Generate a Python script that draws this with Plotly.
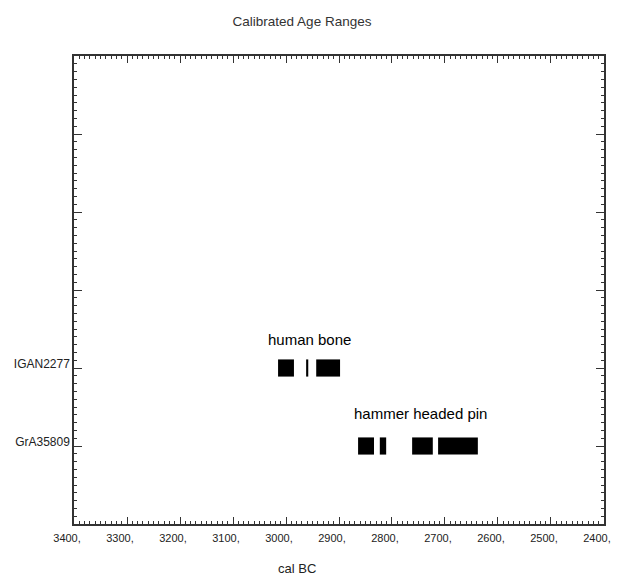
import plotly.graph_objects as go

# Data
samples = ["GrA35809", "IGAN2277"]
sample_pos = [1, 2]
labels = ["hammer headed pin", "human bone"]

# calibrated ranges (cal BC): (older, younger)
human_bone_ranges = [(3015, 2985), (2962, 2958), (2943, 2898)]
hammer_pin_ranges = [(2864, 2834), (2823, 2811), (2762, 2723), (2713, 2638)]

x_ticks = list(range(2400, 3401, 100))
x_ticktext = [f"{v}," for v in x_ticks]

fig = go.Figure()

for pos, ranges in [(2, human_bone_ranges), (1, hammer_pin_ranges)]:
    fig.add_trace(go.Bar(
        orientation="h",
        y=[pos] * len(ranges),
        base=[r[1] for r in ranges],
        x=[r[0] - r[1] for r in ranges],
        width=0.22,
        marker=dict(color="black", line=dict(width=0)),
        showlegend=False,
        hoverinfo="skip",
    ))

font_family = "Liberation Sans, Arial, sans-serif"

fig.add_annotation(x=3038, y=2.36, text="human bone", showarrow=False,
                   xanchor="left", yanchor="middle",
                   font=dict(family=font_family, size=15, color="black"))
fig.add_annotation(x=2876, y=1.42, text="hammer headed pin", showarrow=False,
                   xanchor="left", yanchor="middle",
                   font=dict(family=font_family, size=15, color="black"))
# x-axis title placed as in the reference (slightly left of centre)
fig.add_annotation(xref="paper", yref="paper", x=(297 - 74) / 530, y=-44 / 468,
                   text="cal BC", showarrow=False, xanchor="center", yanchor="middle",
                   font=dict(family=font_family, size=13, color="#222"))

axis_common = dict(
    showline=True, linecolor="#333", linewidth=1.5, mirror="allticks",
    ticks="inside", tickcolor="#333", showgrid=False, zeroline=False,
    automargin=False,
)

fig.update_layout(
    width=618, height=577,
    margin=dict(l=74, r=14, t=56, b=53),
    paper_bgcolor="white", plot_bgcolor="white",
    barmode="overlay",
    title=dict(text="Calibrated Age Ranges", x=302 / 618, xanchor="center",
               y=1 - 21 / 577, yanchor="middle",
               font=dict(family=font_family, size=13.5, color="#333")),
    xaxis=dict(
        range=[3400.05, 2399.95], tickvals=x_ticks, ticktext=x_ticktext,
        ticklen=7, tickwidth=1.2,
        minor=dict(dtick=10, ticks="inside", ticklen=3, tickcolor="#333", tickwidth=1),
        tickfont=dict(family=font_family, size=11, color="#222"),
        ticklabelshift=7, ticklabelstandoff=3,
        ticklabeloverflow="allow",
        **axis_common,
    ),
    yaxis=dict(
        range=[0, 6], tickvals=[1, 2, 3, 4, 5],
        ticktext=[samples[0], samples[1], "", "", ""],
        ticklen=8, tickwidth=1.2,
        minor=dict(dtick=0.1, ticks="inside", ticklen=3, tickcolor="#333", tickwidth=1),
        tickfont=dict(family=font_family, size=12, color="#222"),
        ticklabelstandoff=0, ticklabelshift=-4,
        **axis_common,
    ),
)

fig.write_html("out.html")
